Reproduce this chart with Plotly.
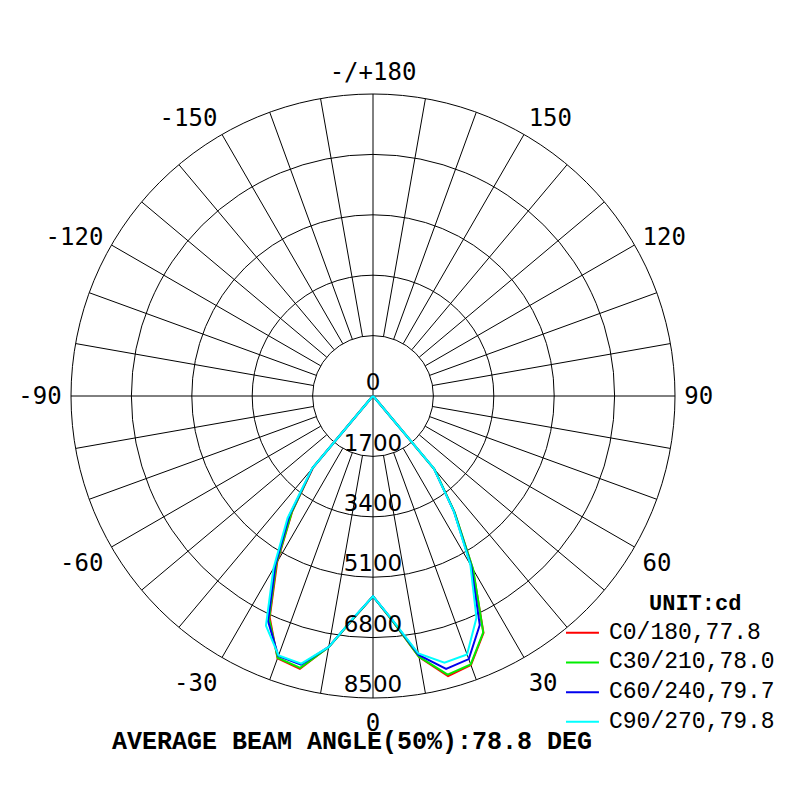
import plotly.graph_objects as go

# gamma angles, -90 (left) .. 0 (down) .. 90 (right), 5 deg steps
theta = [-90, -85, -80, -75, -70, -65, -60, -55, -50, -45, -40, -35, -30, -25, -20, -15, -10, -5,
         0, 5, 10, 15, 20, 25, 30, 35, 40, 45, 50, 55, 60, 65, 70, 75, 80, 85, 90]

# intensity (cd)
c0_180 = [0, 0, 0, 0, 0, 0, 0, 0, 0, 50, 2620, 3960, 5390, 6880, 7860, 7950, 7170, 6280,
          5640, 6360, 7460, 8160, 8060, 7360, 5620, 4000, 2680, 60, 0, 0, 0, 0, 0, 0, 0, 0, 0]
c30_210 = [0, 0, 0, 0, 0, 0, 0, 0, 0, 50, 2640, 3980, 5440, 6920, 7840, 7920, 7180, 6280,
           5640, 6360, 7450, 8120, 8040, 7340, 5640, 4020, 2700, 60, 0, 0, 0, 0, 0, 0, 0, 0, 0]
c60_240 = [0, 0, 0, 0, 0, 0, 0, 0, 0, 50, 2650, 4100, 5500, 6990, 7790, 7830, 7170, 6270,
           5640, 6340, 7400, 7950, 7880, 7110, 5530, 3980, 2670, 50, 0, 0, 0, 0, 0, 0, 0, 0, 0]
c90_270 = [0, 0, 0, 0, 0, 0, 0, 0, 0, 50, 2670, 4190, 5600, 7130, 7770, 7800, 7170, 6260,
           5640, 6330, 7360, 7770, 7740, 6890, 5480, 3970, 2660, 50, 0, 0, 0, 0, 0, 0, 0, 0, 0]

names = ["C0/180,77.8", "C30/210,78.0", "C60/240,79.7", "C90/270,79.8"]
colors = ["#ff0000", "#00ee00", "#0000ee", "#00ffff"]

rings = [0, 1700, 3400, 5100, 6800, 8500]
tick_angles = [0, 30, 60, 90, 120, 150, 180, 210, 240, 270, 300, 330]
tick_text = ["0", "30", "60", "90", "120", "150", "-/+180", "-150", "-120", "-90", "-60", "-30"]

fig = go.Figure()

# spokes every 10 deg, starting at the first ring (main axes go through centre)
sp_r, sp_t = [], []
for a in range(0, 360, 10):
    start = 0 if a % 90 == 0 else rings[1]
    sp_r += [start, rings[-1], None]
    sp_t += [a, a, None]
fig.add_trace(go.Scatterpolar(r=sp_r, theta=sp_t, mode="lines",
                              line=dict(color="black", width=1),
                              showlegend=False, hoverinfo="skip"))

for vals, nm, col in zip([c0_180, c30_210, c60_240, c90_270], names, colors):
    fig.add_trace(go.Scatterpolar(r=vals, theta=theta, mode="lines", name=nm,
                                  line=dict(color=col, width=2), showlegend=False))

# ring labels along the 0 deg axis
fig.add_trace(go.Scatterpolar(r=rings, theta=[0] * len(rings), mode="text",
                              text=[str(v) for v in rings], textposition="top center",
                              textfont=dict(family="DejaVu Sans", size=23, color="black"),
                              showlegend=False, hoverinfo="skip", cliponaxis=False))

# hand-made legend (tighter rows than plotly's own)
annots = [
    dict(text="<b>UNIT:cd</b>", x=0.859, y=0.254, xref="paper", yref="paper",
         xanchor="center", yanchor="middle", showarrow=False,
         font=dict(family="Liberation Mono", size=22, color="black")),
    dict(text="<b>AVERAGE BEAM ANGLE(50%):78.8 DEG</b>",
         x=0.43, y=0.082, xref="paper", yref="paper", xanchor="center", yanchor="middle",
         showarrow=False, font=dict(family="Liberation Mono", size=25, color="black")),
]
shapes = []
for i, (nm, col) in enumerate(zip(names, colors)):
    yy = 0.219 - i * 0.0371
    annots.append(dict(text=nm, x=0.7487, y=yy, xref="paper", yref="paper",
                       xanchor="left", yanchor="middle", showarrow=False,
                       font=dict(family="Liberation Mono", size=23, color="black")))
    shapes.append(dict(type="line", xref="paper", yref="paper", x0=0.6975, x1=0.7387,
                       y0=yy, y1=yy, line=dict(color=col, width=2)))

fig.update_layout(
    width=800, height=800,
    margin=dict(l=0, r=0, t=0, b=0),
    paper_bgcolor="white",
    showlegend=False,
    polar=dict(
        domain=dict(x=[0.07875, 0.83375], y=[0.1375, 0.8925]),
        bgcolor="white",
        angularaxis=dict(rotation=-90, direction="counterclockwise",
                         tickvals=tick_angles, ticktext=tick_text,
                         ticks="outside", ticklen=4, tickcolor="rgba(0,0,0,0)",
                         showgrid=False, showline=True, linecolor="black", linewidth=1,
                         tickfont=dict(family="DejaVu Sans Mono", size=24, color="black")),
        radialaxis=dict(range=[0, 8500], tickvals=rings[1:-1], showticklabels=False,
                        ticks="", showline=False, gridcolor="black", gridwidth=1),
    ),
    annotations=annots,
    shapes=shapes,
)

fig.write_html("out.html")
